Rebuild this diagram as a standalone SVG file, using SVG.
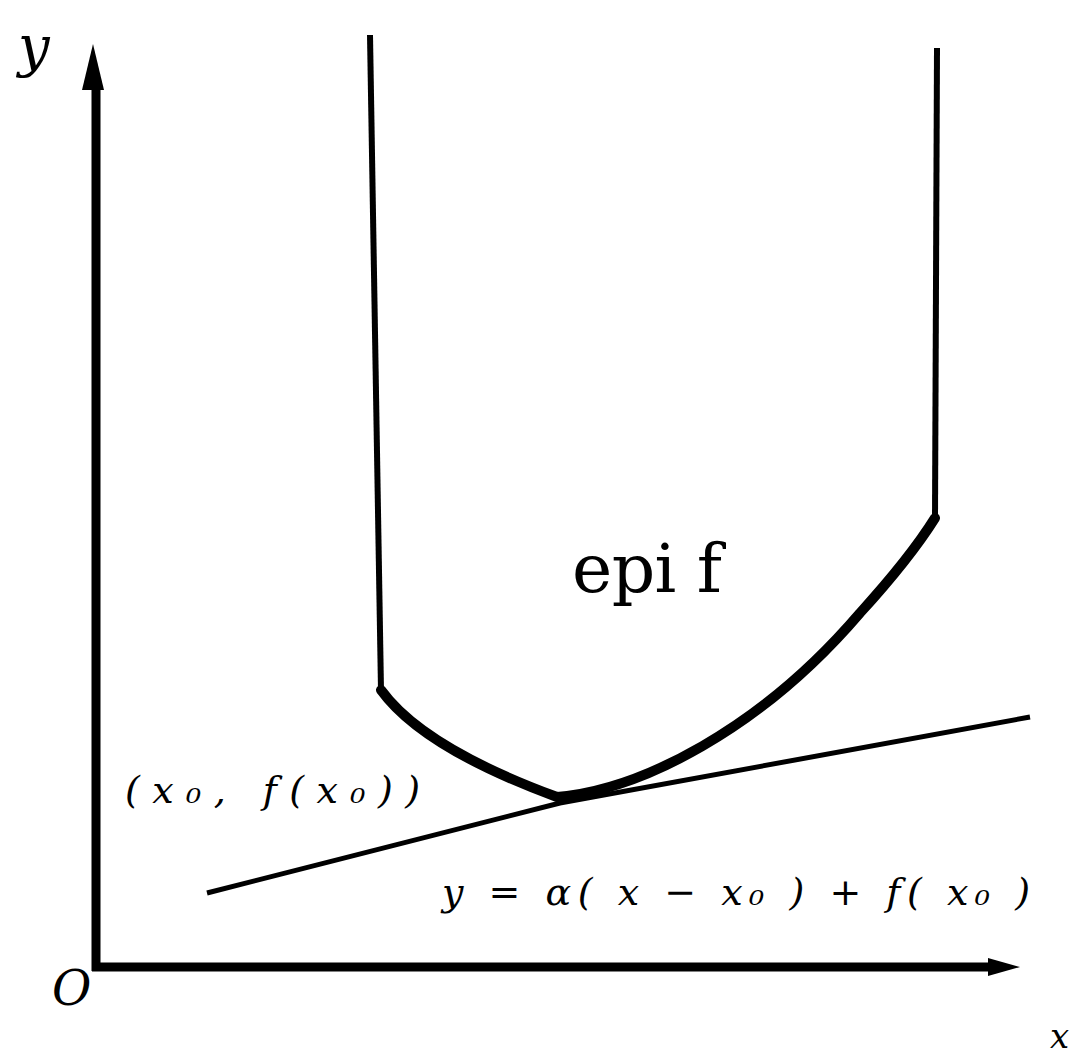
<svg xmlns="http://www.w3.org/2000/svg" width="1081" height="1057" viewBox="0 0 1081 1057">
<style>
.ax{stroke:#000;stroke-width:9;fill:none;stroke-linecap:butt}
.ln{stroke:#000;stroke-width:6;fill:none;stroke-linejoin:round}
.cv{stroke:#000;stroke-width:10;fill:none;stroke-linecap:round;stroke-linejoin:round}
.tx{fill:#000;font-family:"DejaVu Serif","Liberation Serif",serif}
.it{font-style:italic}
</style>
<rect width="1081" height="1057" fill="#fff"/>
<g id="axes">
<line class="ax" x1="96" y1="88" x2="96" y2="971"/>
<polygon points="93,44 82,90 104,90" fill="#000"/>
<line class="ax" x1="92" y1="967" x2="995" y2="967"/>
<polygon points="1020,967 988,958 988,976" fill="#000"/>
</g>
<g id="epigraph">
<path class="ln" d="M370,35 L381,690"/>
<path class="ln" d="M937,48 L935,518"/>
<path class="cv" d="M381,690 C410,730 470,765 557,797 C640,790 760,730 860,613 C890,580 915,550 935,518"/>
</g>
<g id="tangent">
<polyline fill="none" stroke="#000" stroke-width="5" stroke-linejoin="round" points="207,893 560,803 1030,717"/>
</g>
<g id="labels">
<text class="tx it" x="18" y="66" font-size="56">y</text>
<text class="tx it" x="52" y="1005" font-size="48">O</text>
<text class="tx it" x="1050" y="1048" font-size="34">x</text>
<text class="tx" x="572" y="592" font-size="68" textLength="150" lengthAdjust="spacing">epi f</text>
<text class="tx it" x="125" y="803" font-size="38" textLength="295" lengthAdjust="spacing">(x₀, f(x₀))</text>
<text class="tx it" x="442" y="905" font-size="38" textLength="588" lengthAdjust="spacing">y = α( x − x₀ ) + f( x₀ )</text>
</g>
</svg>
